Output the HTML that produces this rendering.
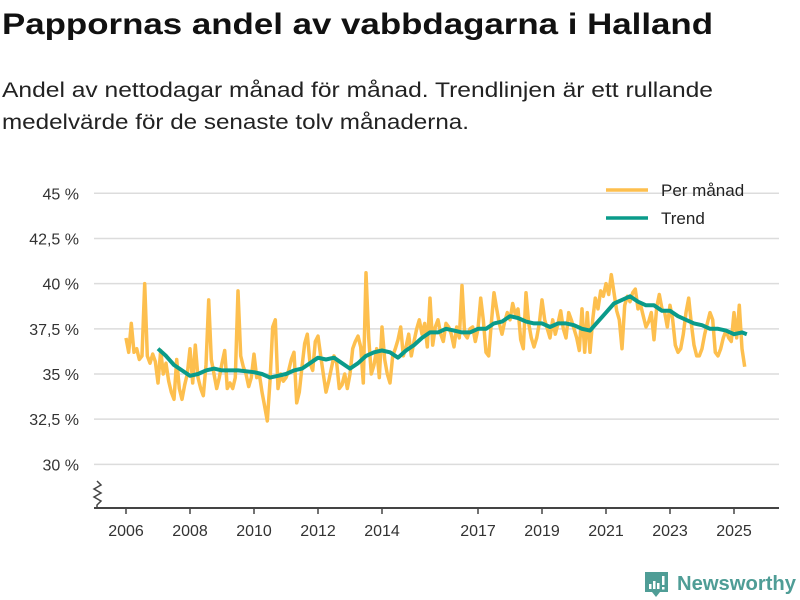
<!DOCTYPE html>
<html><head><meta charset="utf-8"><style>
body{margin:0;background:#fff;}
svg{display:block;font-family:"Liberation Sans","DejaVu Sans",sans-serif;}
</style></head><body>
<svg id="chart" width="800" height="600" viewBox="0 0 800 600">
<text x="2" y="34" font-size="30" font-weight="bold" fill="#111" textLength="711" lengthAdjust="spacingAndGlyphs">Pappornas andel av vabbdagarna i Halland</text>
<text x="2" y="97" font-size="21" fill="#222" textLength="711" lengthAdjust="spacingAndGlyphs">Andel av nettodagar månad för månad. Trendlinjen är ett rullande</text>
<text x="2" y="129" font-size="21" fill="#222" textLength="467" lengthAdjust="spacingAndGlyphs">medelvärde för de senaste tolv månaderna.</text>
<g id="grid"></g>
<g id="yaxis"></g>
<g id="xaxis"></g>
<g id="series"></g>
<g>
<line x1="606" y1="190" x2="648" y2="190" stroke="#fdbf4e" stroke-width="3.5"/>
<text x="661" y="196" font-size="17" fill="#222">Per månad</text>
<line x1="606" y1="218" x2="648" y2="218" stroke="#0a9b8a" stroke-width="3.5"/>
<text x="661" y="224" font-size="17" fill="#222">Trend</text>
</g>
<g>
<path d="M645 572 h23 v20 h-8 l-4 5 l-4 -5 h-7 z" fill="#4f9d96"/>
<rect x="649" y="584" width="2.5" height="5" fill="#fff"/><rect x="653" y="581" width="2.5" height="8" fill="#fff"/><rect x="657" y="583" width="2.5" height="6" fill="#fff"/><rect x="662" y="576" width="2.5" height="9" fill="#fff"/><rect x="662" y="587" width="2.5" height="2.5" fill="#fff"/>
<text x="677" y="590" font-size="20" font-weight="bold" fill="#4f9d96" textLength="119" lengthAdjust="spacingAndGlyphs">Newsworthy</text>
</g>
</svg>
<script>
const yTicks=[30,32.5,35,37.5,40,42.5,45];
const yTickLabels=["30 %","32,5 %","35 %","37,5 %","40 %","42,5 %","45 %"];
const xTicks=[2006,2008,2010,2012,2014,2017,2019,2021,2023,2025];
const xTickLabels=["2006","2008","2010","2012","2014","2017","2019","2021","2023","2025"];
const monthlyStart=2006;
const monthly=[
37.0,36.2,37.8,36.2,36.4,35.8,36.0,40.0,36.0,35.6,36.1,35.7,
34.5,36.3,35.0,35.6,34.6,34.0,33.6,35.8,34.2,33.6,34.4,35.0,
36.4,34.5,36.6,34.8,34.2,33.8,35.5,39.1,35.8,35.0,34.2,34.8,
35.6,36.3,34.2,34.5,34.2,34.8,39.6,36.0,35.4,35.0,34.3,34.8,
36.1,34.8,35.0,34.0,33.2,32.4,34.6,37.6,38.0,34.2,35.0,34.6,
34.8,35.2,35.8,36.2,33.4,34.0,35.4,36.7,37.2,35.6,35.2,36.8,
37.1,36.0,35.0,34.0,34.6,35.3,36.0,35.6,34.2,34.4,35.0,34.2,
35.0,36.4,36.8,37.1,36.5,34.5,40.6,37.0,35.0,35.5,36.4,34.8,
37.6,35.8,35.0,34.5,36.0,36.4,36.9,37.6,36.0,36.5,37.2,36.0,
36.8,37.5,38.0,37.2,37.8,36.5,39.2,36.6,37.6,38.0,37.2,36.8,
37.8,37.6,37.2,36.5,37.6,37.0,39.9,37.2,37.0,37.5,37.6,36.8,
37.5,39.2,38.0,36.2,36.0,37.8,39.5,38.6,37.8,37.2,37.9,38.4,
38.0,38.9,38.3,38.6,36.9,36.4,39.5,37.8,37.0,36.5,37.0,37.8,
39.1,38.0,37.5,37.0,38.0,37.2,37.8,38.5,37.5,37.0,38.4,38.0,
37.5,37.0,36.3,38.6,36.2,38.4,36.2,38.0,39.2,38.6,39.6,39.3,
40.0,39.4,40.5,39.5,38.5,38.0,36.4,38.8,39.3,39.0,39.5,39.7,
38.6,38.8,38.2,37.6,37.9,38.4,36.9,38.7,39.4,38.6,38.4,37.6,
38.8,38.0,36.6,36.2,36.4,37.2,38.4,39.2,37.8,36.6,36.0,36.0,
36.4,37.2,37.8,38.4,38.0,36.2,36.0,36.4,37.0,37.4,37.0,36.8,
38.4,37.0,38.8,36.4,35.4];
const trendDates=[2007,2007.25,2007.5,2007.75,2008,2008.25,2008.5,2008.75,2009,2009.5,2010,2010.25,2010.5,2010.75,2011,2011.25,2011.5,2011.75,2012,2012.25,2012.5,2012.75,2013,2013.25,2013.5,2013.75,2014,2014.25,2014.5,2014.75,2015,2015.25,2015.5,2015.75,2016,2016.25,2016.5,2016.75,2017,2017.25,2017.5,2017.75,2018,2018.25,2018.5,2018.75,2019,2019.25,2019.5,2019.75,2020,2020.25,2020.5,2020.75,2021,2021.25,2021.5,2021.75,2022,2022.25,2022.5,2022.75,2023,2023.25,2023.5,2023.75,2024,2024.25,2024.5,2024.75,2025,2025.25,2025.4];
const trendValues=[36.4,36.0,35.5,35.2,34.9,35.0,35.2,35.3,35.2,35.2,35.1,35.0,34.8,34.9,35.0,35.2,35.3,35.6,35.9,35.8,35.9,35.6,35.3,35.6,36.0,36.2,36.3,36.2,35.9,36.3,36.6,37.0,37.3,37.3,37.5,37.4,37.3,37.3,37.5,37.5,37.8,37.9,38.2,38.1,37.9,37.8,37.8,37.6,37.8,37.8,37.7,37.5,37.4,37.9,38.4,38.9,39.1,39.3,39.0,38.8,38.8,38.5,38.5,38.2,38.0,37.8,37.7,37.5,37.5,37.4,37.2,37.3,37.2];

const NS="http://www.w3.org/2000/svg";
const x=d=>126+(d-2006)*32;
const y=v=>374-(v-35)*18.07;
function mk(tag,attrs,parent){const e=document.createElementNS(NS,tag);for(const k in attrs)e.setAttribute(k,attrs[k]);parent.appendChild(e);return e;}
const grid=document.getElementById('grid'),ya=document.getElementById('yaxis'),xa=document.getElementById('xaxis'),ser=document.getElementById('series');
yTicks.forEach((t,i)=>{
  const l=mk('line',{x1:94,x2:779,y1:y(t),y2:y(t),stroke:'#dcdcdc','stroke-width':1.5},grid);
  
  
  const tx=mk('text',{x:79,y:y(t)+6,'font-size':16,fill:'#333','text-anchor':'end'},ya);
  tx.textContent=yTickLabels[i];
  
  
});
const zz=mk('path',{d:'M97 481 l4 4 l-7 4 l7 4 l-7 4 l7 4 l-4 4 v4',fill:'none',stroke:'#444','stroke-width':1.5},ya);


const ax=mk('line',{x1:94,x2:779,y1:508,y2:508,stroke:'#444','stroke-width':2},xa);


xTicks.forEach((t,i)=>{
  const tk=mk('line',{x1:x(t),x2:x(t),y1:508,y2:514,stroke:'#444','stroke-width':1.5},xa);
  
  
  const tx=mk('text',{x:x(t),y:536,'font-size':16,fill:'#333','text-anchor':'middle'},xa);
  tx.textContent=xTickLabels[i];
  
  
});
const mp=monthly.map((v,i)=>x(monthlyStart+i/12).toFixed(1)+','+y(v).toFixed(1)).join(' ');
const ml=mk('polyline',{points:mp,fill:'none',stroke:'#fdbf4e','stroke-width':3.5,'stroke-linejoin':'round'},ser);


const tp=trendValues.map((v,i)=>x(trendDates[i]).toFixed(1)+','+y(v).toFixed(1)).join(' ');
const tl=mk('polyline',{points:tp,fill:'none',stroke:'#0a9b8a','stroke-width':4,'stroke-linejoin':'round'},ser);


</script>
</body></html>
